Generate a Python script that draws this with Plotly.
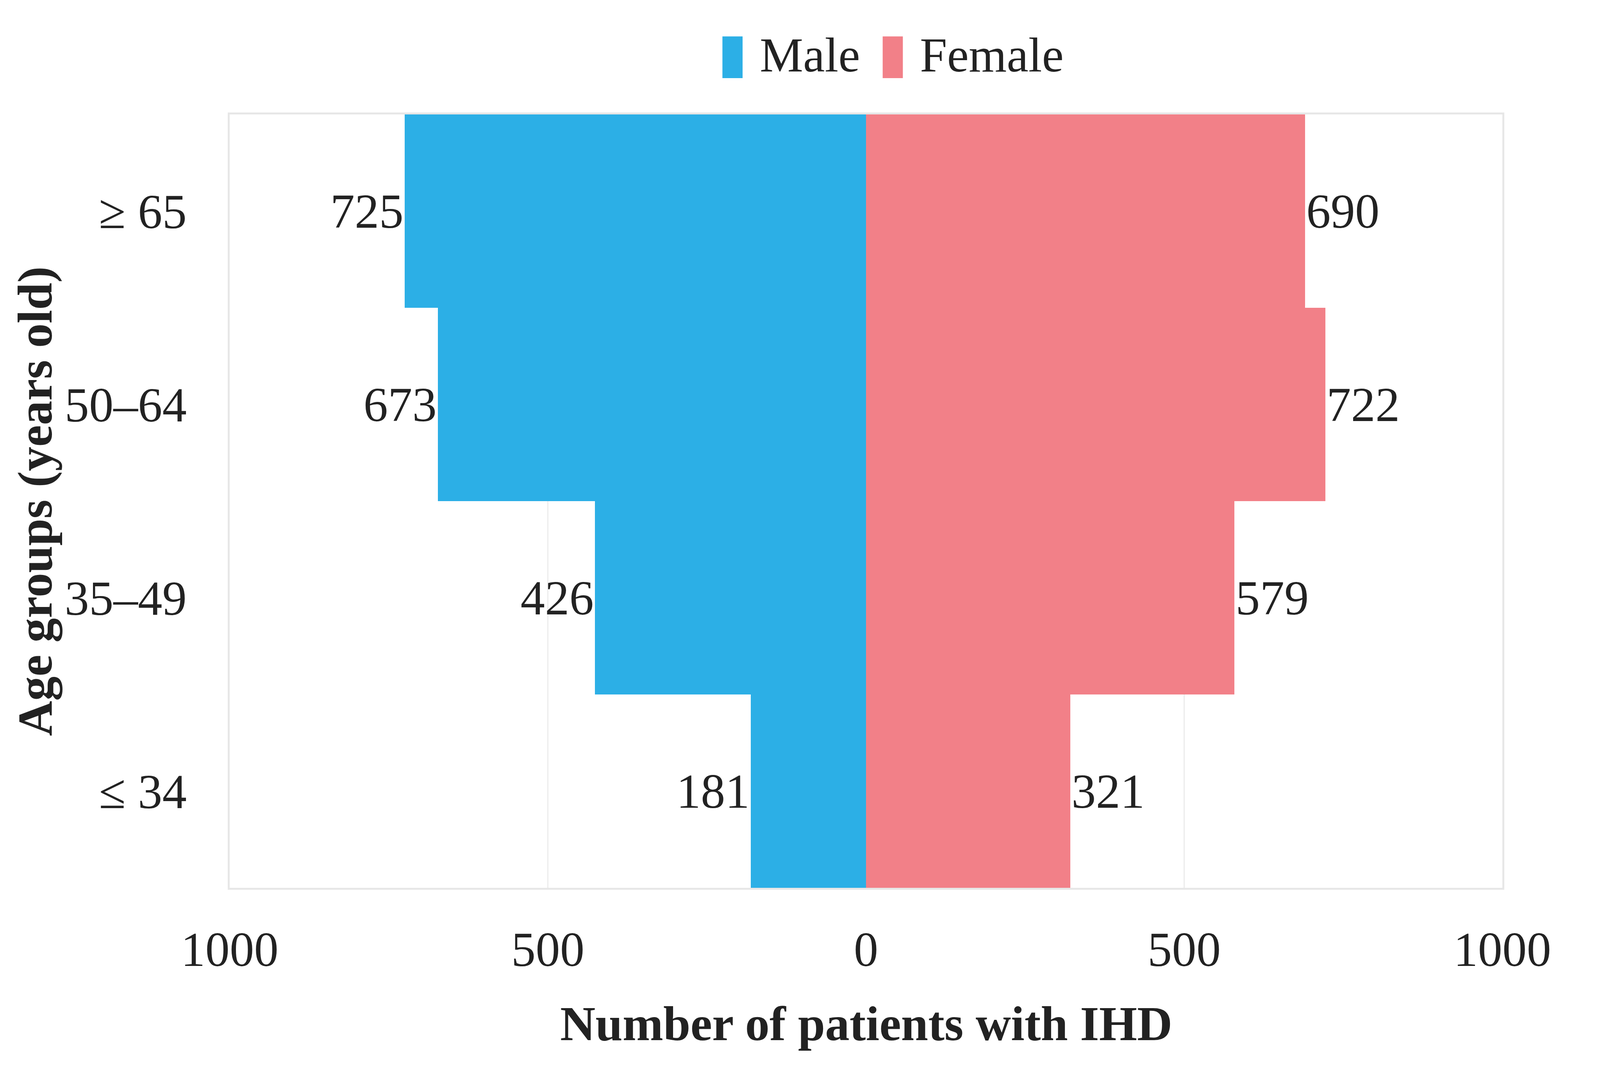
import plotly.graph_objects as go

age_groups = ["≤ 34", "35–49", "50–64", "≥ 65"]
male = [181, 426, 673, 725]
female = [321, 579, 722, 690]
x_tickvals = [-1000, -500, 0, 500, 1000]
x_ticktext = ["1000", "500", "0", "500", "1000"]

MALE_C = "#2CAFE6"
FEMALE_C = "#F28088"
FONT = "Liberation Serif"
FS = 125
TXT = "#222222"

fig = go.Figure()
fig.add_trace(go.Bar(
    y=age_groups, x=[-v for v in male], orientation="h",
    marker=dict(color=MALE_C, line=dict(width=0)),
    text=[str(v) for v in male], textposition="outside",
    textfont=dict(family=FONT, size=FS, color=TXT),
    cliponaxis=False, showlegend=False, name="Male",
))
fig.add_trace(go.Bar(
    y=age_groups, x=female, orientation="h",
    marker=dict(color=FEMALE_C, line=dict(width=0)),
    text=[str(v) for v in female], textposition="outside",
    textfont=dict(family=FONT, size=FS, color=TXT),
    cliponaxis=False, showlegend=False, name="Female",
))
# legend entries
for nm, c in [("Male", MALE_C), ("Female", FEMALE_C)]:
    fig.add_trace(go.Scatter(
        x=[None], y=[None], mode="markers",
        marker=dict(color="rgba(0,0,0,0)", size=1),
        name=f'<span style="color:{c};font-family:DejaVu Sans;font-size:140px">▮</span> {nm}',
        showlegend=True,
    ))

fig.update_layout(
    autosize=True,
    margin=dict(l=588, r=250, t=293, b=469),
    paper_bgcolor="white", plot_bgcolor="white",
    barmode="overlay", bargap=0,
    font=dict(family=FONT, size=FS, color=TXT),
    legend=dict(orientation="h", x=0.514, xanchor="center", y=1.08, yanchor="middle",
                font=dict(family=FONT, size=FS, color=TXT), itemwidth=30,
                bgcolor="rgba(0,0,0,0)"),
    xaxis=dict(range=[-1000, 1000], tickvals=x_tickvals, ticktext=x_ticktext,
               showgrid=True, gridcolor="#ececec", gridwidth=3,
               zeroline=False, showline=True, mirror=True,
               linecolor="rgba(215,215,215,0.6)", linewidth=5,
               ticks="", ticklabelstandoff=45,
               tickfont=dict(family=FONT, size=FS, color=TXT)),
    yaxis=dict(type="category", categoryorder="array", categoryarray=age_groups,
               showgrid=False, zeroline=False, showline=True, mirror=True,
               linecolor="rgba(215,215,215,0.6)", linewidth=5,
               ticks="", ticklabelstandoff=80,
               tickfont=dict(family=FONT, size=FS, color=TXT)),
    annotations=[
        dict(text="<b>Number of patients with IHD</b>", xref="paper", yref="paper",
             x=0.5, y=-0.176, xanchor="center", yanchor="middle", showarrow=False,
             font=dict(family=FONT, size=FS, color=TXT)),
        dict(text="<b>Age groups (years old)</b>", xref="paper", yref="paper",
             x=-0.153, y=0.5, xanchor="center", yanchor="middle", textangle=-90,
             showarrow=False, font=dict(family=FONT, size=FS, color=TXT)),
    ],
)

js = """
document.body.style.margin='0';
document.body.style.overflow='hidden';
var gd = document.getElementById('{plot_id}');
Plotly.Plots.resize(gd);
"""
fig.write_html("out.html", default_width="100%", default_height="100vh",
               config={"responsive": True, "displayModeBar": False}, post_script=js)
